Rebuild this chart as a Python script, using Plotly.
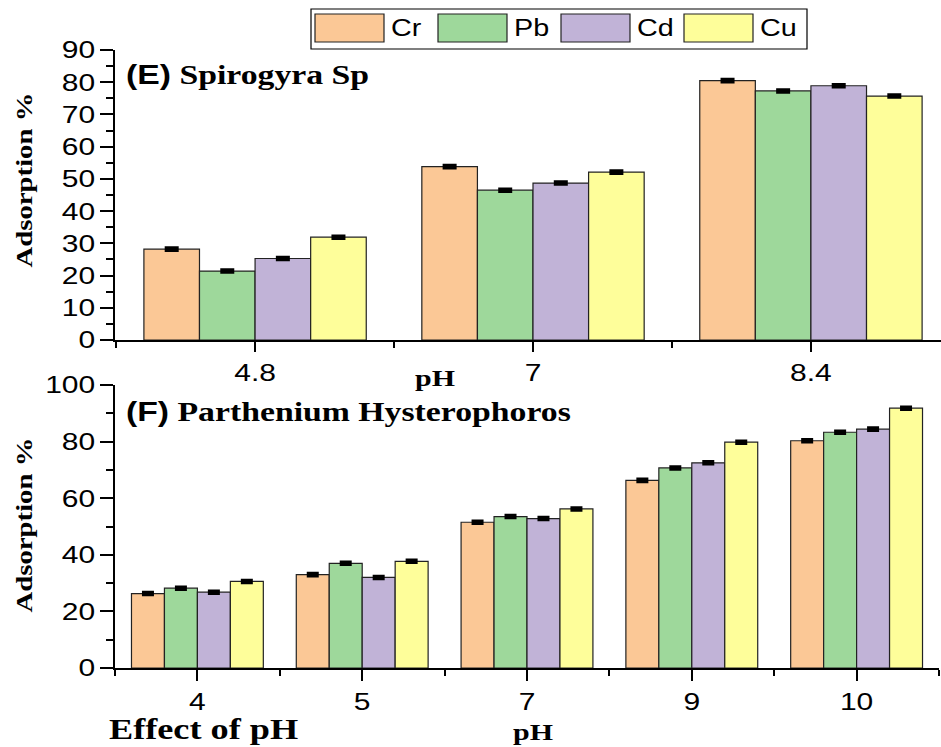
import plotly.graph_objects as go

# ---- data ----
metals = ["Cr", "Pb", "Cd", "Cu"]
colors = ["#FBC896", "#9ED89B", "#C1B3D7", "#FEFE9A"]

ph_top = ["4.8", "7", "8.4"]
top_values = {
    "Cr": [28.2, 53.8, 80.5],
    "Pb": [21.4, 46.5, 77.3],
    "Cd": [25.3, 48.7, 78.9],
    "Cu": [31.9, 52.1, 75.7],
}
top_err = [0.4, 0.4, 0.4]

ph_bot = ["4", "5", "7", "9", "10"]
bot_values = {
    "Cr": [26.3, 33.0, 51.5, 66.3, 80.3],
    "Pb": [28.2, 37.0, 53.5, 70.7, 83.3],
    "Cd": [26.8, 32.0, 52.8, 72.5, 84.4],
    "Cu": [30.6, 37.7, 56.2, 79.8, 91.8],
}
bot_err = [0.45, 0.45, 0.45, 0.45, 0.45]

W, H = 941, 747
SANS = "Liberation Sans, Arial, sans-serif"
SERIF = "Liberation Serif, Times New Roman, serif"

fig = go.Figure()

for m, c in zip(metals, colors):
    fig.add_trace(go.Bar(
        x=list(range(len(ph_top))), y=top_values[m], name=m,
        marker=dict(color=c, line=dict(color="#222222", width=1.2)),
        error_y=dict(type="data", array=top_err, color="black", thickness=3, width=7),
        xaxis="x", yaxis="y", showlegend=False,
    ))
    fig.add_trace(go.Bar(
        x=list(range(len(ph_bot))), y=bot_values[m], name=m,
        marker=dict(color=c, line=dict(color="#222222", width=1.2)),
        error_y=dict(type="data", array=bot_err, color="black", thickness=3, width=6),
        xaxis="x2", yaxis="y2", showlegend=False,
    ))

def px_x(p):
    return p / W

def px_y(p):
    return 1 - p / H

axis_common = dict(
    showline=True, linecolor="black", linewidth=2, showgrid=False, zeroline=False,
    ticks="outside", tickcolor="black", tickwidth=2, automargin=False,
    tickfont=dict(family=SANS, size=24, color="black"),
)

fig.update_layout(
    width=W, height=H, margin=dict(l=0, r=0, t=0, b=0, pad=0, autoexpand=False),
    paper_bgcolor="white", plot_bgcolor="white", showlegend=False,
    barmode="group", bargap=0.2, bargroupgap=0.0,
    xaxis=dict(
        **axis_common, domain=[px_x(115), 1.0], range=[-0.504, 2.468],
        tickvals=list(range(len(ph_top))), ticktext=ph_top, ticklen=10,
        minor=dict(tickvals=[-0.5, 0.5, 1.5], ticklen=6, tickwidth=2, tickcolor="black", ticks="outside"),
        anchor="y",
    ),
    yaxis=dict(
        **axis_common, domain=[px_y(340), px_y(50)], range=[0, 90],
        tickvals=list(range(0, 91, 10)), ticklen=13,
        minor=dict(dtick=5, tick0=0, ticklen=7, tickwidth=2, tickcolor="black", ticks="outside"),
        anchor="x",
    ),
    xaxis2=dict(
        **axis_common, domain=[px_x(115), px_x(939)], range=[-0.5, 4.5],
        tickvals=list(range(len(ph_bot))), ticktext=ph_bot, ticklen=11,
        minor=dict(tickvals=[-0.5, 0.5, 1.5, 2.5, 3.5, 4.5], ticklen=6, tickwidth=2, tickcolor="black", ticks="outside"),
        anchor="y2",
    ),
    yaxis2=dict(
        **axis_common, domain=[px_y(668), px_y(385)], range=[0, 100],
        tickvals=list(range(0, 101, 20)), ticklen=13,
        minor=dict(dtick=10, tick0=0, ticklen=7, tickwidth=2, tickcolor="black", ticks="outside"),
        anchor="x2",
    ),
)

ann = []
def add_text(text, x, y, size, family=SERIF, xanchor="center", yanchor="middle", angle=0):
    align = {"left": "left", "center": "center", "right": "right"}[xanchor]
    ann.append(dict(text=text, x=px_x(x), y=px_y(y), xref="paper", yref="paper",
                    showarrow=False, xanchor=xanchor, yanchor=yanchor, textangle=angle, align=align,
                    font=dict(family=family, size=size, color="black")))

add_text("<b>Adsorption %</b>", 24, 180, 23, angle=-90)
add_text("<b>Adsorption %</b>", 24, 525, 23, angle=-90)
add_text("<b><span style='font-family:Liberation Sans'>(E)</span> Spirogyra Sp</b>", 124, 75, 27, xanchor="left")
add_text("<b><span style='font-family:Liberation Sans'>(F)</span> Parthenium Hysterophoros</b>", 124, 412, 27, xanchor="left")
add_text("<b>pH</b>", 435, 378, 24)
add_text("<b>pH</b>", 533, 732, 24)
add_text("<b>Effect of pH</b>", 107, 729, 29, xanchor="left")

# manual legend
shapes = []
lx0, ly0, lx1, ly1 = 311, 9, 807, 49
shapes.append(dict(type="rect", xref="paper", yref="paper", x0=px_x(lx0), x1=px_x(lx1),
                   y0=px_y(ly1), y1=px_y(ly0), line=dict(color="black", width=1.2), fillcolor="white"))
item_w = (lx1 - lx0 - 4) / len(metals)
for i, (m, c) in enumerate(zip(metals, colors)):
    sx = lx0 + 4 + i * item_w
    shapes.append(dict(type="rect", xref="paper", yref="paper", x0=px_x(sx), x1=px_x(sx + 69),
                       y0=px_y(42), y1=px_y(14), line=dict(color="#222222", width=1.2), fillcolor=c))
    add_text(m, sx + 74, 28, 23, family=SANS, xanchor="left")

fig.update_layout(annotations=ann, shapes=shapes)

# the reference lettering is horizontally widened; stretch every text element a little
stretch_js = """
var gd = document.getElementById('{plot_id}');
var S = 1.25;
gd.querySelectorAll('svg text').forEach(function(t){
  if (!t.textContent.trim()) return;
  var bb = t.getBBox();
  var anc = t.getAttribute('text-anchor') || window.getComputedStyle(t).textAnchor || 'start';
  var ax = anc === 'middle' ? bb.x + bb.width / 2 : (anc === 'end' ? bb.x + bb.width : bb.x);
  var cy = bb.y + bb.height / 2;
  var tr = t.getAttribute('transform') || '';
  t.setAttribute('transform', tr + ' translate(' + ax + ',' + cy + ') scale(' + S + ',1) translate(' + (-ax) + ',' + (-cy) + ')');
});
"""

fig.write_html("out.html", post_script=stretch_js, config={"displayModeBar": False})
